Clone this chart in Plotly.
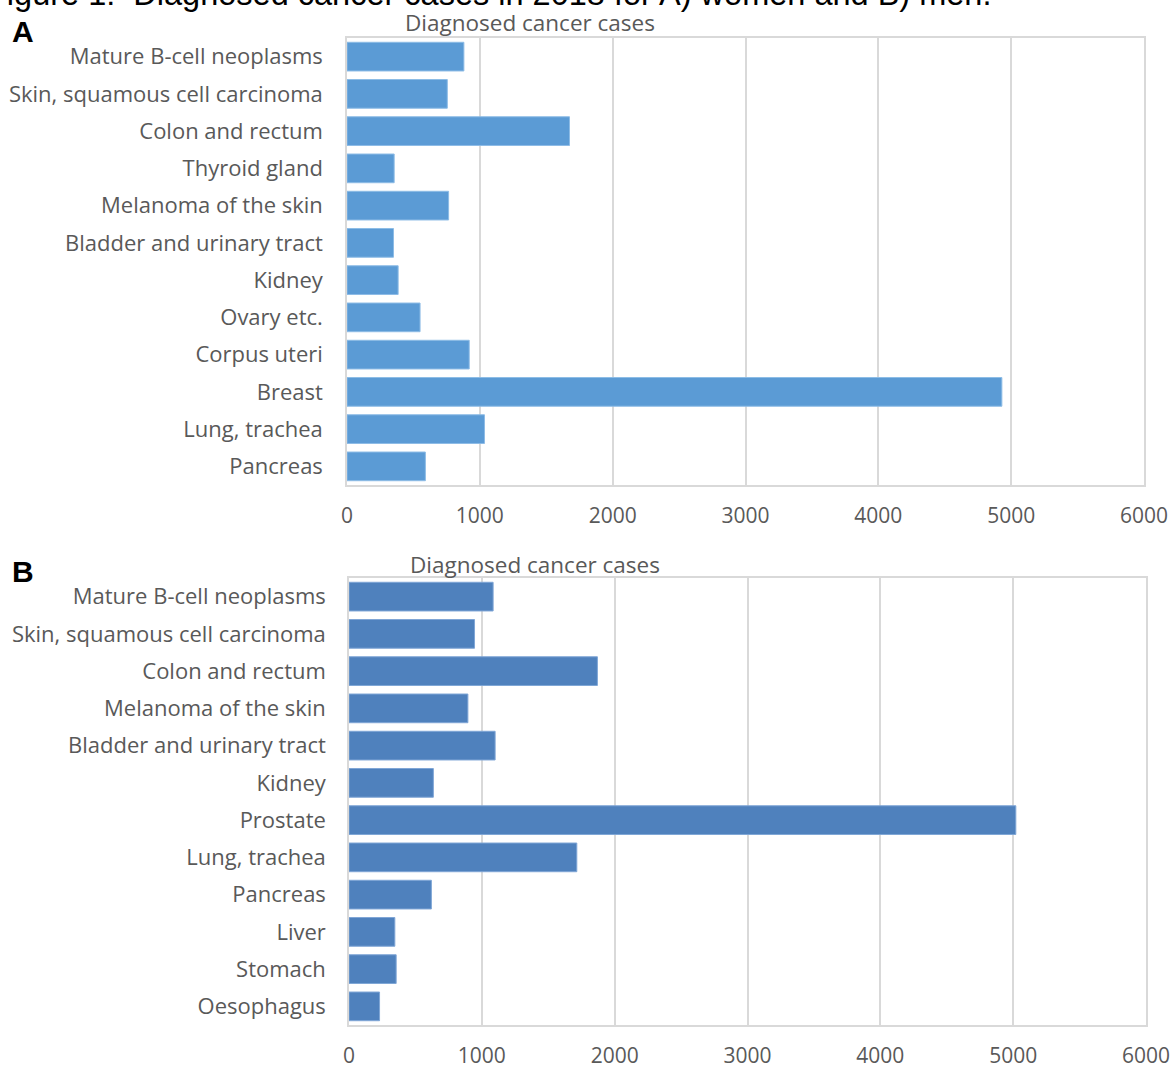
import plotly.graph_objects as go

W, H = 1174, 1066

women_categories = ["Mature B-cell neoplasms", "Skin, squamous cell carcinoma", "Colon and rectum",
                    "Thyroid gland", "Melanoma of the skin", "Bladder and urinary tract", "Kidney",
                    "Ovary etc.", "Corpus uteri", "Breast", "Lung, trachea", "Pancreas"]
women_values = [880, 755, 1675, 355, 765, 350, 385, 550, 920, 4930, 1035, 590]

men_categories = ["Mature B-cell neoplasms", "Skin, squamous cell carcinoma", "Colon and rectum",
                  "Melanoma of the skin", "Bladder and urinary tract", "Kidney", "Prostate",
                  "Lung, trachea", "Pancreas", "Liver", "Stomach", "Oesophagus"]
men_values = [1085, 945, 1870, 895, 1100, 635, 5020, 1715, 620, 345, 355, 230]

x_ticks = [0, 1000, 2000, 3000, 4000, 5000, 6000]

chart_title = "Diagnosed cancer cases"
fig_title = "Figure 1:  Diagnosed cancer cases in 2018 for A) women and B) men."

TXT = "#595959"
GRID = "#D9D9D9"
FONT = "Open Sans"

def px_x(p):
    return p / W

def px_y(p):
    return 1 - p / H

fig = go.Figure()
fig.add_trace(go.Bar(x=women_values, y=women_categories, orientation="h",
                     marker=dict(color="#5B9BD5", line=dict(color="#8DBCE6", width=1)),
                     xaxis="x", yaxis="y", hoverinfo="x+y"))
fig.add_trace(go.Bar(x=men_values, y=men_categories, orientation="h",
                     marker=dict(color="#4F81BD", line=dict(color="#7FA6D6", width=1)),
                     xaxis="x2", yaxis="y2", hoverinfo="x+y"))

xcommon = dict(range=[0, 6000], tickvals=x_ticks, showgrid=True, gridcolor=GRID, gridwidth=1.5,
               zeroline=False, showline=True, linecolor=GRID, linewidth=1.5, mirror=True,
               tickfont=dict(family=FONT, size=21, color=TXT), ticks="", ticklabelstandoff=11,
               fixedrange=True, automargin=False)
ycommon = dict(autorange="reversed", showgrid=False, zeroline=False, showline=True, linecolor=GRID,
               linewidth=1.5, mirror=True, tickfont=dict(family=FONT, size=22, color=TXT), ticks="",
               fixedrange=True, automargin=False)

big = dict(family="Liberation Sans, Arial", size=30, color="black")

fig.update_layout(
    width=W, height=H, autosize=False,
    margin=dict(l=0, r=0, t=0, b=0, pad=0, autoexpand=False),
    paper_bgcolor="white", plot_bgcolor="white",
    showlegend=False, bargap=0.23,
    xaxis=dict(domain=[px_x(347), px_x(1144)], anchor="y", **xcommon),
    yaxis=dict(domain=[px_y(485), px_y(38)], anchor="x", ticklabelstandoff=18, **ycommon),
    xaxis2=dict(domain=[px_x(349), px_x(1146)], anchor="y2", **xcommon),
    yaxis2=dict(domain=[px_y(1025), px_y(578)], anchor="x2", ticklabelstandoff=17, **ycommon),
    annotations=[
        dict(text=fig_title, xref="paper", yref="paper", x=px_x(-15), y=px_y(-6), xanchor="left",
             yanchor="middle", showarrow=False,
             font=dict(family="Liberation Sans, Arial", size=32.5, color="black")),
        dict(text="<b>A</b>", xref="paper", yref="paper", x=px_x(10), y=px_y(31), xanchor="left",
             yanchor="middle", showarrow=False, font=big),
        dict(text="<b>B</b>", xref="paper", yref="paper", x=px_x(10), y=px_y(571), xanchor="left",
             yanchor="middle", showarrow=False, font=big),
        dict(text=chart_title, xref="paper", yref="paper", x=px_x(529.5), y=px_y(22), xanchor="center",
             yanchor="middle", showarrow=False, font=dict(family=FONT, size=22.5, color=TXT)),
        dict(text=chart_title, xref="paper", yref="paper", x=px_x(534.5), y=px_y(564), xanchor="center",
             yanchor="middle", showarrow=False, font=dict(family=FONT, size=22.5, color=TXT)),
    ],
)

fig.write_html("out.html", config={"displayModeBar": False, "responsive": False},
               post_script="document.body.style.margin='0';document.documentElement.style.overflow='hidden';document.body.style.overflow='hidden';")
